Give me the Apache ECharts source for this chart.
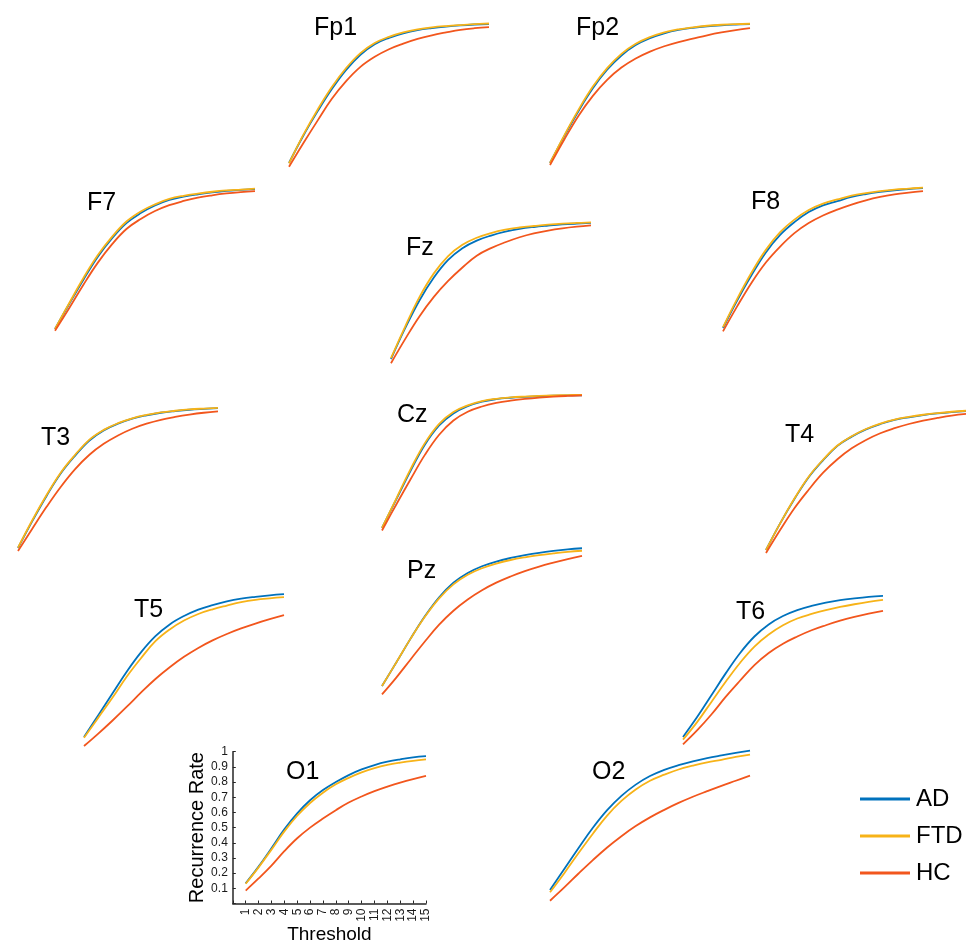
<!DOCTYPE html>
<html><head><meta charset="utf-8">
<script src="https://cdn.jsdelivr.net/npm/echarts@6/dist/echarts.min.js"></script>
<style>html,body{margin:0;padding:0;background:#fff}#c{width:968px;height:943px}</style>
</head><body><div id="c"></div>
<script>
// ---------------- data ----------------
const thresholds = [1,2,3,4,5,6,7,8,9,10,11,12,13,14,15];
const groups = ['AD','FTD','HC'];
const electrodes = ['Fp1','Fp2','F7','Fz','F8','T3','Cz','T4','T5','Pz','T6','O1','O2'];
const yTickLabels = [0.1,0.2,0.3,0.4,0.5,0.6,0.7,0.8,0.9,1];

const Fp1_AD  = [0.158,0.32,0.465,0.598,0.712,0.802,0.865,0.903,0.93,0.949,0.961,0.97,0.977,0.982,0.985];
const Fp1_FTD = [0.155,0.325,0.475,0.61,0.723,0.812,0.872,0.909,0.935,0.953,0.965,0.973,0.979,0.984,0.988];
const Fp1_HC  = [0.135,0.275,0.41,0.54,0.645,0.73,0.79,0.835,0.868,0.896,0.918,0.935,0.95,0.96,0.967];

const Fp2_AD  = [0.16,0.32,0.47,0.605,0.715,0.80,0.862,0.903,0.932,0.952,0.965,0.974,0.98,0.984,0.987];
const Fp2_FTD = [0.16,0.325,0.478,0.615,0.725,0.81,0.87,0.91,0.938,0.956,0.968,0.977,0.983,0.987,0.989];
const Fp2_HC  = [0.148,0.30,0.442,0.56,0.655,0.728,0.782,0.823,0.855,0.88,0.90,0.92,0.937,0.951,0.963];

const F7_AD  = [0.15,0.30,0.445,0.58,0.69,0.78,0.84,0.885,0.918,0.938,0.952,0.963,0.972,0.978,0.983];
const F7_FTD = [0.15,0.305,0.455,0.59,0.70,0.79,0.85,0.892,0.924,0.943,0.956,0.967,0.975,0.98,0.985];
const F7_HC  = [0.14,0.275,0.415,0.545,0.655,0.745,0.805,0.852,0.887,0.912,0.932,0.946,0.957,0.965,0.971];

const Fz_AD  = [0.17,0.355,0.52,0.655,0.76,0.83,0.875,0.905,0.928,0.945,0.956,0.964,0.971,0.976,0.98];
const Fz_FTD = [0.175,0.365,0.54,0.68,0.783,0.85,0.892,0.92,0.94,0.953,0.962,0.97,0.976,0.98,0.983];
const Fz_HC  = [0.145,0.29,0.425,0.54,0.635,0.715,0.785,0.83,0.865,0.895,0.918,0.935,0.948,0.958,0.966];

const F8_AD  = [0.15,0.315,0.465,0.60,0.704,0.78,0.84,0.88,0.905,0.93,0.947,0.96,0.97,0.977,0.983];
const F8_FTD = [0.155,0.325,0.48,0.615,0.72,0.795,0.852,0.89,0.915,0.938,0.953,0.965,0.974,0.98,0.986];
const F8_HC  = [0.13,0.28,0.42,0.54,0.635,0.715,0.775,0.82,0.855,0.885,0.91,0.93,0.945,0.956,0.965];

const T3_AD  = [0.15,0.31,0.46,0.595,0.70,0.79,0.85,0.89,0.92,0.94,0.955,0.965,0.973,0.978,0.982];
const T3_FTD = [0.152,0.315,0.465,0.60,0.705,0.795,0.853,0.893,0.922,0.942,0.957,0.967,0.975,0.98,0.984];
const T3_HC  = [0.132,0.265,0.395,0.515,0.62,0.705,0.77,0.82,0.86,0.89,0.913,0.93,0.944,0.955,0.963];

const Cz_AD  = [0.18,0.35,0.52,0.675,0.79,0.862,0.905,0.932,0.947,0.955,0.96,0.964,0.967,0.969,0.97];
const Cz_FTD = [0.18,0.355,0.53,0.685,0.80,0.87,0.91,0.935,0.949,0.957,0.962,0.966,0.969,0.971,0.972];
const Cz_HC  = [0.165,0.32,0.47,0.615,0.735,0.82,0.872,0.903,0.924,0.938,0.948,0.956,0.962,0.966,0.969];

const T4_AD  = [0.15,0.31,0.455,0.585,0.685,0.77,0.825,0.868,0.9,0.925,0.94,0.953,0.963,0.971,0.977];
const T4_FTD = [0.15,0.31,0.458,0.588,0.688,0.772,0.827,0.87,0.902,0.926,0.942,0.955,0.965,0.973,0.979];
const T4_HC  = [0.132,0.27,0.40,0.51,0.61,0.69,0.755,0.805,0.845,0.875,0.9,0.92,0.936,0.95,0.96];

const T5_AD  = [0.13,0.26,0.39,0.52,0.635,0.73,0.80,0.85,0.888,0.915,0.937,0.953,0.964,0.973,0.98];
const T5_FTD = [0.125,0.245,0.365,0.49,0.60,0.70,0.77,0.823,0.862,0.89,0.912,0.932,0.946,0.955,0.962];
const T5_HC  = [0.076,0.15,0.228,0.31,0.395,0.475,0.545,0.607,0.66,0.705,0.743,0.776,0.805,0.831,0.855];

const Pz_AD  = [0.15,0.29,0.432,0.565,0.678,0.765,0.823,0.863,0.891,0.912,0.929,0.943,0.954,0.963,0.97];
const Pz_FTD = [0.15,0.29,0.432,0.562,0.672,0.755,0.812,0.851,0.879,0.9,0.916,0.929,0.939,0.948,0.955];
const Pz_HC  = [0.10,0.20,0.308,0.415,0.515,0.598,0.665,0.72,0.765,0.802,0.834,0.861,0.884,0.905,0.924];

const T6_AD  = [0.13,0.25,0.38,0.51,0.63,0.728,0.80,0.85,0.885,0.91,0.929,0.944,0.955,0.964,0.97];
const T6_FTD = [0.114,0.22,0.34,0.46,0.572,0.668,0.74,0.795,0.835,0.862,0.885,0.904,0.92,0.934,0.946];
const T6_HC  = [0.086,0.17,0.265,0.37,0.466,0.558,0.63,0.685,0.728,0.765,0.795,0.822,0.845,0.864,0.88];

const O1_AD  = [0.133,0.243,0.364,0.489,0.594,0.68,0.747,0.80,0.846,0.883,0.912,0.934,0.95,0.963,0.971];
const O1_FTD = [0.13,0.238,0.355,0.475,0.578,0.662,0.73,0.785,0.828,0.864,0.892,0.913,0.928,0.94,0.949];
const O1_HC  = [0.085,0.165,0.25,0.345,0.43,0.50,0.56,0.615,0.665,0.705,0.74,0.77,0.797,0.82,0.84];

const O2_AD  = [0.13,0.255,0.38,0.50,0.605,0.69,0.757,0.808,0.845,0.873,0.896,0.915,0.931,0.946,0.96];
const O2_FTD = [0.116,0.23,0.35,0.465,0.573,0.66,0.728,0.78,0.816,0.847,0.87,0.89,0.905,0.922,0.936];
const O2_HC  = [0.066,0.145,0.228,0.308,0.383,0.45,0.51,0.562,0.607,0.648,0.685,0.718,0.75,0.78,0.81];

const seriesData = {
  Fp1:[Fp1_AD,Fp1_FTD,Fp1_HC], Fp2:[Fp2_AD,Fp2_FTD,Fp2_HC], F7:[F7_AD,F7_FTD,F7_HC],
  Fz:[Fz_AD,Fz_FTD,Fz_HC], F8:[F8_AD,F8_FTD,F8_HC], T3:[T3_AD,T3_FTD,T3_HC],
  Cz:[Cz_AD,Cz_FTD,Cz_HC], T4:[T4_AD,T4_FTD,T4_HC], T5:[T5_AD,T5_FTD,T5_HC],
  Pz:[Pz_AD,Pz_FTD,Pz_HC], T6:[T6_AD,T6_FTD,T6_HC], O1:[O1_AD,O1_FTD,O1_HC], O2:[O2_AD,O2_FTD,O2_HC]
};

// ---------------- layout / style ----------------
const colors = {AD:'#0072BD', FTD:'#F7B318', HC:'#F2561D'};
const layout = {
  Fp1:{g:[289,21.5], t:[314,16]},
  Fp2:{g:[550,21.9], t:[576,15.5]},
  F7:{g:[55,186.2], t:[87,190.5]},
  Fz:{g:[391,219.6], t:[406,235.5]},
  F8:{g:[723,185.2], t:[751,189.5]},
  T3:{g:[18,405.2], t:[41,426]},
  Cz:{g:[382,390.2], t:[397,403]},
  T4:{g:[766,407.2], t:[785,423]},
  T5:{g:[84,590.8], t:[134,598]},
  Pz:{g:[382,543.2], t:[407,559]},
  T6:{g:[683,590.8], t:[736,600]},
  O1:{g:[232.8,751.7], t:[286,759.5]},
  O2:{g:[550,743.8], t:[592,760]}
};
const FONT = '"Liberation Sans", Arial, sans-serif';
const AXC = '#262626';

const grid = [], xAxis = [], yAxis = [], series = [], title = [];
electrodes.forEach((e, i) => {
  const L = layout[e];
  const isO1 = e === 'O1';
  grid.push({left:L.g[0], top:L.g[1], width: isO1 ? 193.2 : 200, height: isO1 ? 151.8 : 168,
             containLabel:false, outerBoundsMode:'none'});
  if (isO1) {
    xAxis.push({gridIndex:i, type:'value', min:0, max:15, interval:1,
      axisLine:{show:true, lineStyle:{color:AXC, width:1.5}},
      axisTick:{show:true, inside:true, length:3, lineStyle:{color:AXC}},
      splitLine:{show:false},
      axisLabel:{rotate:90, fontSize:12, color:'#1a1a1a', fontFamily:FONT, margin:5,
                 formatter: v => (v >= thresholds[0] ? String(v) : '')},
      name:'Threshold', nameLocation:'middle', nameGap:20,
      nameTextStyle:{fontSize:19, color:'#000', fontFamily:FONT, verticalAlign:'top'}});
    yAxis.push({gridIndex:i, type:'value', min:0, max:1, interval:0.1,
      axisLine:{show:true, lineStyle:{color:AXC, width:1.5}},
      axisTick:{show:true, inside:true, length:3, lineStyle:{color:AXC}},
      splitLine:{show:false},
      axisLabel:{fontSize:12, color:'#1a1a1a', fontFamily:FONT, margin:5,
                 formatter: v => (v >= yTickLabels[0] - 1e-9 ? String(+v.toFixed(1)) : '')},
      name:'Recurrence Rate', nameLocation:'middle', nameGap:19, nameRotate:90,
      nameTextStyle:{fontSize:20, color:'#000', fontFamily:FONT}});
  } else {
    xAxis.push({gridIndex:i, type:'value', min:1, max:15, show:false});
    yAxis.push({gridIndex:i, type:'value', min:0, max:1, show:false});
  }
  title.push({text:e, left:L.t[0], top:L.t[1], padding:0,
    textStyle:{fontSize:25, fontWeight:'normal', color:'#000', fontFamily:FONT}});
  groups.forEach((g, k) => {
    const arr = seriesData[e][k];
    series.push({name:g, type:'line', xAxisIndex:i, yAxisIndex:i,
      data: thresholds.map((t, j) => [t, arr[j]]),
      showSymbol:false, symbol:'none', smooth:0.4,
      lineStyle:{color:colors[g], width:1.8}, itemStyle:{color:colors[g]},
      silent:true, z: 2 + k});
  });
});

const chart = echarts.init(document.getElementById('c'), null, {renderer:'canvas'});
chart.setOption({
  animation:false,
  backgroundColor:'#fff',
  title, grid, xAxis, yAxis, series,
  legend:{data:groups, orient:'vertical', left:855, top:782, itemWidth:50, itemHeight:3,
    icon:'rect', itemGap:13, selectedMode:false,
    textStyle:{fontSize:24, color:'#000', fontFamily:FONT, padding:[0,0,0,1]}}
});
</script>
</body></html>
